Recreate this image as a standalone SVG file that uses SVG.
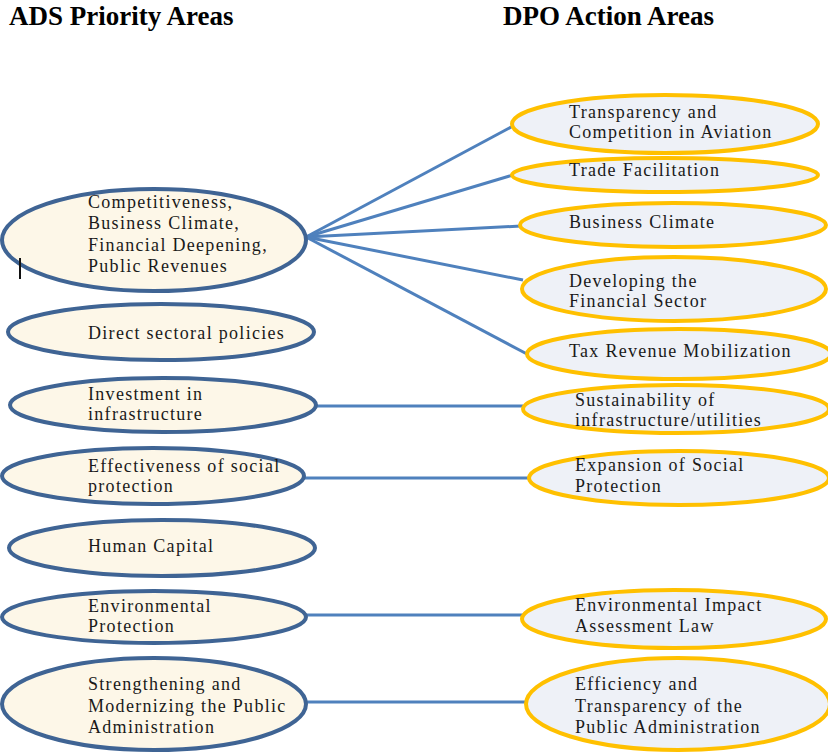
<svg xmlns="http://www.w3.org/2000/svg" width="828" height="752" viewBox="0 0 828 752">
  <style>
    .title { font-family: "Liberation Serif", "Times New Roman", serif; font-weight: bold; font-size: 27px; fill: #000; }
    .lbl { font-family: "Liberation Serif", "Times New Roman", serif; font-size: 18px; letter-spacing: 1.3px; fill: #1a1a1a; }
    .ads ellipse { fill: #FDF7E8; stroke: #3F6494; stroke-width: 4; }
    .dpo ellipse { fill: #EEF1F7; stroke: #FFC000; stroke-width: 4; }
    #connectors line { stroke: #4F81BD; stroke-width: 3; }
  </style>
  <rect width="828" height="752" fill="#fff"/>

  <text class="title" x="9" y="25">ADS Priority Areas</text>
  <text class="title" x="503" y="25">DPO Action Areas</text>

  <!-- links between priority areas and action areas -->
  <g id="connectors">
    <line x1="306" y1="237" x2="513" y2="126"/>
    <line x1="306" y1="237" x2="513" y2="175"/>
    <line x1="306" y1="237" x2="521" y2="226"/>
    <line x1="306" y1="237" x2="523" y2="280"/>
    <line x1="306" y1="237" x2="527" y2="354"/>
    <line x1="315" y1="406" x2="523" y2="406"/>
    <line x1="304" y1="478" x2="529" y2="478"/>
    <line x1="305" y1="615" x2="523" y2="615"/>
    <line x1="305" y1="702" x2="527" y2="702"/>
  </g>

  <!-- ADS priority areas -->
  <g id="ads-competitiveness" class="ads">
    <ellipse cx="154" cy="240" rx="152" ry="51"/>
    <text class="lbl" x="88" y="208">Competitiveness,</text>
    <text class="lbl" x="88" y="229">Business Climate,</text>
    <text class="lbl" x="88" y="251">Financial Deepening,</text>
    <text class="lbl" x="88" y="272">Public Revenues</text>
  </g>
  <g id="ads-sectoral" class="ads">
    <ellipse cx="161" cy="332" rx="153" ry="28"/>
    <text class="lbl" x="88" y="339">Direct sectoral policies</text>
  </g>
  <g id="ads-infrastructure" class="ads">
    <ellipse cx="163" cy="405" rx="153" ry="27"/>
    <text class="lbl" x="88" y="400">Investment in</text>
    <text class="lbl" x="88" y="420">infrastructure</text>
  </g>
  <g id="ads-social" class="ads">
    <ellipse cx="153" cy="476" rx="151" ry="28"/>
    <text class="lbl" x="88" y="472">Effectiveness of social</text>
    <text class="lbl" x="88" y="492">protection</text>
  </g>
  <g id="ads-human" class="ads">
    <ellipse cx="162" cy="548" rx="153" ry="28"/>
    <text class="lbl" x="88" y="552">Human Capital</text>
  </g>
  <g id="ads-environment" class="ads">
    <ellipse cx="154" cy="617" rx="152" ry="26"/>
    <text class="lbl" x="88" y="612">Environmental</text>
    <text class="lbl" x="88" y="632">Protection</text>
  </g>
  <g id="ads-administration" class="ads">
    <ellipse cx="154" cy="704" rx="152" ry="46"/>
    <text class="lbl" x="88" y="690">Strengthening and</text>
    <text class="lbl" x="88" y="712">Modernizing the Public</text>
    <text class="lbl" x="88" y="733">Administration</text>
  </g>

  <!-- DPO action areas -->
  <g id="dpo-aviation" class="dpo">
    <ellipse cx="665" cy="124" rx="153" ry="29"/>
    <text class="lbl" x="569" y="118">Transparency and</text>
    <text class="lbl" x="569" y="138">Competition in Aviation</text>
  </g>
  <g id="dpo-trade" class="dpo">
    <ellipse cx="665" cy="175" rx="153" ry="17"/>
    <text class="lbl" x="569" y="176">Trade Facilitation</text>
  </g>
  <g id="dpo-business" class="dpo">
    <ellipse cx="673" cy="225" rx="153" ry="22"/>
    <text class="lbl" x="569" y="228">Business Climate</text>
  </g>
  <g id="dpo-financial" class="dpo">
    <ellipse cx="674" cy="289" rx="152" ry="32"/>
    <text class="lbl" x="569" y="287">Developing the</text>
    <text class="lbl" x="569" y="307">Financial Sector</text>
  </g>
  <g id="dpo-tax" class="dpo">
    <ellipse cx="679" cy="354" rx="152" ry="25"/>
    <text class="lbl" x="569" y="357">Tax Revenue Mobilization</text>
  </g>
  <g id="dpo-utilities" class="dpo">
    <ellipse cx="676" cy="409" rx="153" ry="24"/>
    <text class="lbl" x="575" y="406">Sustainability of</text>
    <text class="lbl" x="575" y="426">infrastructure/utilities</text>
  </g>
  <g id="dpo-social" class="dpo">
    <ellipse cx="679" cy="478" rx="150" ry="27"/>
    <text class="lbl" x="575" y="471">Expansion of Social</text>
    <text class="lbl" x="575" y="492">Protection</text>
  </g>
  <g id="dpo-eia" class="dpo">
    <ellipse cx="674" cy="619" rx="152" ry="29"/>
    <text class="lbl" x="575" y="611">Environmental Impact</text>
    <text class="lbl" x="575" y="632">Assessment Law</text>
  </g>
  <g id="dpo-admin" class="dpo">
    <ellipse cx="678" cy="704" rx="152" ry="46"/>
    <text class="lbl" x="575" y="690">Efficiency and</text>
    <text class="lbl" x="575" y="712">Transparency of the</text>
    <text class="lbl" x="575" y="733">Public Administration</text>
  </g>

  <!-- text cursor mark -->
  <line x1="20" y1="258" x2="20" y2="279" stroke="#111" stroke-width="2"/>
</svg>
